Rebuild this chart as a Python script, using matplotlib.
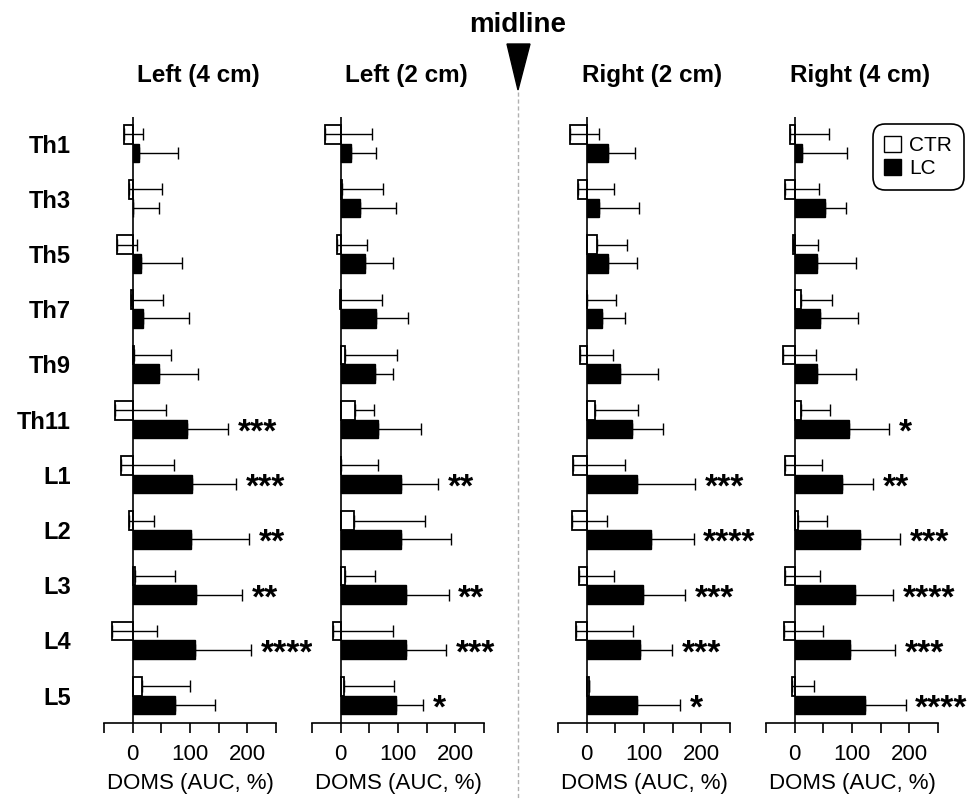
import numpy as np
import matplotlib.pyplot as plt
from matplotlib.patches import Patch, Polygon
from matplotlib.lines import Line2D

plt.rcParams['font.family'] = ['Liberation Sans', 'DejaVu Sans']

# --- data ---
segments = ['Th1', 'Th3', 'Th5', 'Th7', 'Th9', 'Th11', 'L1', 'L2', 'L3', 'L4', 'L5']
panel_titles = ['Left (4 cm)', 'Left (2 cm)', 'Right (2 cm)', 'Right (4 cm)']

# Left (4 cm)
ctr_l4 = [-15.1, -6.4, -26.7, -3.5, 1.5, -31.4, -19.8, -7.0, 4.7, -35.5, 16.9]
ctr_l4_sd = [33.7, 57.6, 34.8, 57.0, 65.3, 88.9, 91.8, 44.8, 68.6, 77.9, 83.7]
lc_l4 = [11.6, 1.0, 15.1, 18.0, 45.9, 95.3, 102.9, 102.3, 110.5, 109.3, 73.3]
lc_l4_sd = [66.9, 45.5, 71.5, 80.0, 68.1, 71.5, 76.7, 100.0, 80.8, 97.7, 69.7]
stars_l4 = ['', '', '', '', '', '***', '***', '**', '**', '****', '']

# Left (2 cm)
ctr_l2 = [-27.2, 2.3, -6.4, -1.2, 7.5, 24.3, 0.5, 22.6, 7.0, -13.9, 5.2]
ctr_l2_sd = [81.7, 70.7, 52.2, 73.0, 90.4, 34.2, 64.9, 125.1, 52.7, 104.9, 88.1]
lc_l2 = [18.5, 34.2, 41.7, 61.4, 60.2, 64.3, 106.0, 106.0, 114.1, 114.7, 97.3]
lc_l2_sd = [42.3, 62.0, 49.8, 56.6, 31.9, 75.3, 64.3, 85.7, 74.2, 68.9, 46.4]
stars_l2 = ['', '', '', '', '', '', '**', '', '**', '***', '*']

# Right (2 cm)
ctr_r2 = [-28.4, -14.5, 18.5, 0.5, -12.2, 15.0, -23.2, -25.5, -13.9, -18.5, 4.6]
ctr_r2_sd = [49.8, 62.0, 51.0, 49.9, 58.5, 74.2, 90.4, 60.3, 61.9, 99.6, 0.0]
lc_r2 = [36.5, 20.9, 36.5, 26.0, 59.0, 78.8, 88.6, 112.4, 98.5, 93.8, 88.0]
lc_r2_sd = [47.5, 70.6, 51.5, 41.2, 65.0, 55.0, 100.2, 74.1, 73.5, 55.7, 74.2]
stars_r2 = ['', '', '', '', '', '', '***', '****', '***', '***', '*']

# Right (4 cm)
ctr_r4 = [-7.5, -16.2, -2.9, 11.6, -19.7, 11.6, -16.2, 6.4, -17.4, -18.0, -4.0]
ctr_r4_sd = [66.6, 59.1, 43.5, 53.3, 57.4, 49.8, 64.3, 49.2, 61.4, 66.7, 38.2]
lc_r4 = [12.2, 53.3, 38.8, 44.0, 38.8, 95.0, 81.7, 113.5, 104.9, 97.3, 123.4]
lc_r4_sd = [79.3, 36.5, 67.8, 66.6, 68.9, 69.0, 55.0, 70.7, 66.6, 77.7, 70.1]
stars_r4 = ['', '', '', '', '', '*', '**', '***', '****', '***', '****']

panels = [
    (ctr_l4, ctr_l4_sd, lc_l4, lc_l4_sd, stars_l4),
    (ctr_l2, ctr_l2_sd, lc_l2, lc_l2_sd, stars_l2),
    (ctr_r2, ctr_r2_sd, lc_r2, lc_r2_sd, stars_r2),
    (ctr_r4, ctr_r4_sd, lc_r4, lc_r4_sd, stars_r4),
]

W, H = 977, 800
fig = plt.figure(figsize=(W / 100, H / 100), dpi=100)

lefts = [104, 312, 558, 766]
ax_w = 172
ax_top, ax_bot = 117, 723.3

y = np.arange(len(segments))
h = 0.338

for i, (ctr, ctr_sd, lc, lc_sd, stars) in enumerate(panels):
    ax = fig.add_axes([lefts[i] / W, 1 - ax_bot / H, ax_w / W, (ax_bot - ax_top) / H])
    ctr = np.array(ctr)
    lc = np.array(lc)
    zeros = np.zeros(len(segments))

    ax.barh(y - h / 2, ctr, height=h, color='white', edgecolor='black', linewidth=1.3, zorder=2)
    ax.barh(y + h / 2, lc, height=h, color='black', edgecolor='black', linewidth=1.0, zorder=2)
    ax.errorbar(ctr, y - h / 2, xerr=[zeros, ctr_sd], fmt='none', ecolor='black',
                elinewidth=1.0, capsize=4, capthick=1.0, zorder=3)
    ax.errorbar(lc, y + h / 2, xerr=[zeros, lc_sd], fmt='none', ecolor='black',
                elinewidth=1.0, capsize=4, capthick=1.0, zorder=3)

    for j, s in enumerate(stars):
        if s:
            ax.annotate(s, xy=(lc[j] + lc_sd[j], y[j] + h / 2), xytext=(7, -3),
                        textcoords='offset points', ha='left', va='center',
                        fontsize=24, fontweight='bold')

    ax.axvline(0, color='black', linewidth=1.2, zorder=4)
    ax.set_xlim(-50, 250)
    ax.set_ylim(10.5, -0.48)

    ax.set_xticks([-50, 0, 50, 100, 150, 200, 250])
    ax.set_xticklabels(['', '0', '', '100', '', '200', ''], fontsize=16)
    ax.tick_params(axis='x', direction='out', length=7, width=1.2, pad=8)
    ax.set_xlabel('DOMS (AUC, %)', fontsize=16, labelpad=6)

    ax.set_yticks(y)
    if i == 0:
        ax.set_yticklabels(segments, fontsize=17, fontweight='bold')
        ax.tick_params(axis='y', length=0, pad=24)
    else:
        ax.set_yticklabels([])
        ax.tick_params(axis='y', length=0)

    for side in ['top', 'right', 'left']:
        ax.spines[side].set_visible(False)
    ax.spines['bottom'].set_linewidth(1.2)

    ax.set_title(panel_titles[i], fontsize=17.5, fontweight='bold', x=0.547, pad=25)

    if i == 3:
        handles = [Patch(facecolor='white', edgecolor='black', linewidth=1.0, label='CTR'),
                   Patch(facecolor='black', edgecolor='black', label='LC')]
        leg = ax.legend(handles=handles, loc='upper right',
                        bbox_to_anchor=(970 / W, 1 - 118 / H), bbox_transform=fig.transFigure,
                        fontsize=15, handlelength=0.8, handleheight=0.8, handletextpad=0.4,
                        borderpad=0.35, labelspacing=0.2, fancybox=True, framealpha=1)
        leg.get_frame().set_edgecolor('black')
        leg.get_frame().set_linewidth(1.2)
        leg.get_frame().set_boxstyle('round,pad=0.2,rounding_size=0.6')

# midline marker
mx = 518 / W
fig.text(mx, 1 - 25 / H, 'midline', ha='center', va='center', fontsize=20, fontweight='bold')
tri = Polygon([[507 / W, 1 - 44 / H], [530 / W, 1 - 44 / H], [mx, 1 - 90 / H]],
              closed=True, facecolor='black', edgecolor='black', transform=fig.transFigure)
fig.patches.append(tri)
fig.lines.append(Line2D([mx, mx], [1 - 92 / H, 0], transform=fig.transFigure,
                        color='#b0b0b0', linestyle=(0, (3, 2)), linewidth=1.0))

fig.savefig('out.png', dpi=100)
